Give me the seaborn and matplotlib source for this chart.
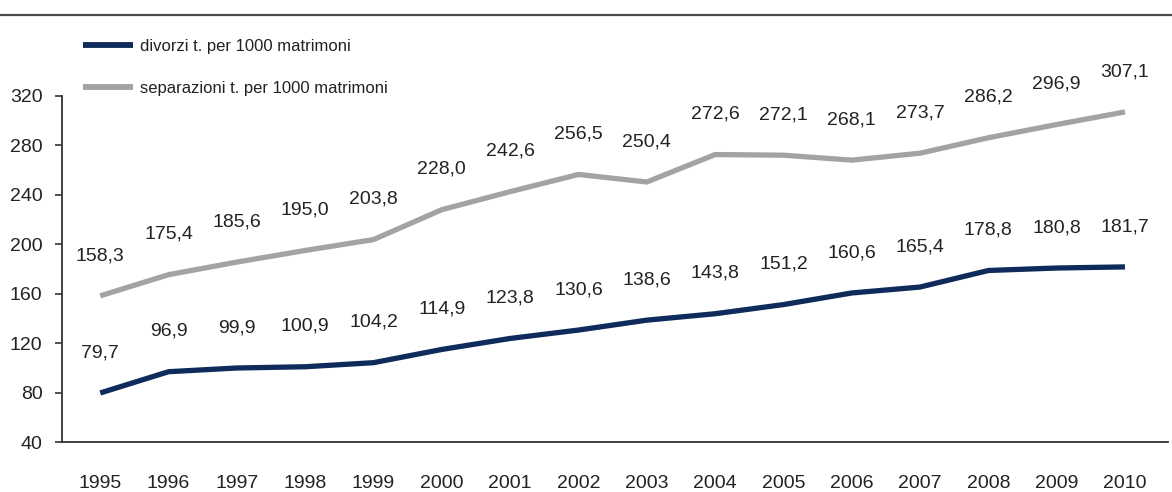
import matplotlib
matplotlib.use("Agg")
import matplotlib.pyplot as plt
from matplotlib.lines import Line2D
import seaborn as sns
import pandas as pd

years = list(range(1995, 2011))
divorzi = [79.7, 96.9, 99.9, 100.9, 104.2, 114.9, 123.8, 130.6, 138.6, 143.8,
           151.2, 160.6, 165.4, 178.8, 180.8, 181.7]
separazioni = [158.3, 175.4, 185.6, 195.0, 203.8, 228.0, 242.6, 256.5, 250.4, 272.6,
               272.1, 268.1, 273.7, 286.2, 296.9, 307.1]
series_names = ["divorzi t. per 1000 matrimoni", "separazioni t. per 1000 matrimoni"]
y_ticks = [40, 80, 120, 160, 200, 240, 280, 320]

sns.set_theme(style="white")
plt.rcParams["font.family"] = ["Liberation Sans", "DejaVu Sans"]

NAVY = "#0f2b5b"
GREY = "#a3a3a3"
TEXT = "#222222"

df = pd.DataFrame({
    "anno": years * 2,
    "valore": divorzi + separazioni,
    "serie": [series_names[0]] * len(years) + [series_names[1]] * len(years),
})

fig = plt.figure(figsize=(11.72, 4.92), dpi=100)
ax = fig.add_axes([0.0529, 0.1016, 0.9437, 0.7033])

sns.lineplot(data=df, x="anno", y="valore", hue="serie",
             palette={series_names[0]: NAVY, series_names[1]: GREY},
             linewidth=3.8, legend=False, ax=ax, solid_capstyle="butt")

# value labels above each point
def fmt(v):
    return f"{v:.1f}".replace(".", ",")

for vals in (divorzi, separazioni):
    for x, v in zip(years, vals):
        ax.annotate(fmt(v), (x, v), xytext=(0, 29), textcoords="offset points",
                    ha="center", va="center", fontsize=14, color=TEXT,
                    annotation_clip=False)

ax.set_xlim(1994.44, 2010.63)
ax.set_ylim(40, 320)
ax.set_yticks(y_ticks)
ax.set_yticklabels([str(t) for t in y_ticks])
ax.set_xticks(years)
ax.set_xticklabels([str(y) for y in years])
ax.set_xlabel("")
ax.set_ylabel("")

for side in ("top", "right"):
    ax.spines[side].set_visible(False)
for side in ("left", "bottom"):
    ax.spines[side].set_color("#333333")
    ax.spines[side].set_linewidth(1.3)

ax.tick_params(axis="y", which="both", left=True, length=5, width=1.2,
               color="#333333", labelsize=14, labelcolor=TEXT, pad=9)
ax.tick_params(axis="x", which="both", bottom=False, labelsize=14,
               labelcolor=TEXT, pad=18)

handles = [Line2D([0], [0], color=NAVY, lw=4.2, solid_capstyle="butt"),
           Line2D([0], [0], color=GREY, lw=4.2, solid_capstyle="butt")]
fig.legend(handles, series_names, loc="upper left",
           bbox_to_anchor=(83 / 1172, 1 - 39 / 492),
           frameon=False, fontsize=12, handlelength=3.0, handletextpad=0.4,
           labelspacing=1.6, labelcolor=TEXT, borderpad=0, borderaxespad=0)

# header rule across the top of the figure
fig.add_artist(Line2D([0, 1], [1 - 15 / 492, 1 - 15 / 492], transform=fig.transFigure,
                      color="#4a4a4a", lw=1.6))

fig.savefig("out.png", dpi=100, facecolor="white")
